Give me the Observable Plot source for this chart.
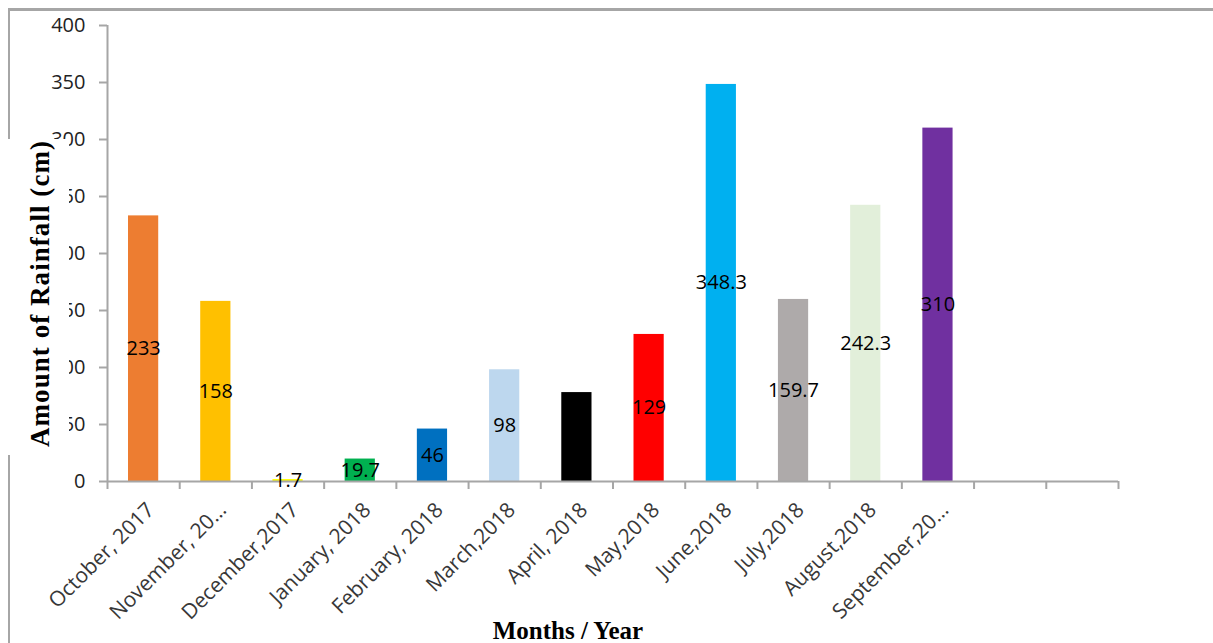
<!DOCTYPE html>
<html>
<head>
<meta charset="utf-8">
<script src="https://cdn.jsdelivr.net/npm/d3@7"></script>
<script src="https://cdn.jsdelivr.net/npm/@observablehq/plot@0.6"></script>
<style>
  html, body { margin: 0; padding: 0; background: #fff; }
  #wrap { position: relative; width: 1213px; height: 643px; overflow: hidden; }
  #wrap svg { position: absolute; left: 0; top: 0; }
  #deco { pointer-events: none; }
</style>
</head>
<body>
<div id="wrap"></div>
<script>
// Monthly rainfall, October 2017 – September 2018
const months = [
  "October, 2017", "November, 20…", "December,2017", "January, 2018",
  "February, 2018", "March,2018", "April, 2018", "May,2018",
  "June,2018", "July,2018", "August,2018", "September,20…"
];
const rainfall = [233, 158, 1.7, 19.7, 46, 98, 78, 129, 348.3, 159.7, 242.3, 310];
const barColors = [
  "#ED7D31", "#FFC000", "#FFFF00", "#00B050", "#0070C0", "#BDD7EE",
  "#000000", "#FF0000", "#00B0F0", "#AEAAAA", "#E2EFDA", "#7030A0"
];
// months whose bar carries no value label
const unlabeled = ["April, 2018"];
const yTicks = [0, 50, 100, 150, 200, 250, 300, 350, 400];
const slotCount = 14; // category slots on the axis (two trailing ones are empty)

const data = months.map((month, i) => ({
  slot: i, month, value: rainfall[i], color: barColors[i]
}));

const axisGray = "#a6a6a6";
const sans = "'Open Sans', sans-serif";

const chart = Plot.plot({
  width: 1213,
  height: 643,
  marginLeft: 107,
  marginRight: 95,
  marginTop: 25,
  marginBottom: 162,
  style: { fontFamily: sans, background: "transparent", overflow: "visible" },
  x: { type: "linear", domain: [0, slotCount] },
  y: { domain: [0, 400] },
  marks: [
    Plot.rectY(data, {
      x1: "slot", x2: d => d.slot + 1, y: "value",
      fill: "color", insetLeft: 21, insetRight: 21
    }),
    Plot.ruleX([0], { stroke: axisGray, strokeWidth: 2 }),
    Plot.ruleY([0], { stroke: axisGray, strokeWidth: 2 }),
    Plot.axisY({
      ticks: yTicks, tickSize: 8, tickPadding: 14, stroke: axisGray,
      strokeWidth: 2, fontSize: 20, color: "#222", label: null
    }),
    // boundary ticks between the category slots
    Plot.axisX({
      ticks: d3.range(slotCount + 1), tickSize: 8, tickFormat: () => "",
      stroke: axisGray, strokeWidth: 2, label: null
    }),
    // month labels at slot centres
    Plot.axisX(data.map(d => d.slot + 0.5), {
      tickSize: 0, tickPadding: 25, tickRotate: -45, fontSize: 21, dx: 7,
      color: "#383838", label: null,
      tickFormat: v => months[Math.floor(v)]
    }),
    Plot.text(data.filter(d => !unlabeled.includes(d.month)), {
      x: d => d.slot + 0.5, y: d => d.value / 2,
      text: d => String(d.value), fontSize: 20, fill: "#000"
    })
  ]
});
document.getElementById("wrap").appendChild(chart);

// Outer frame, the panel that sits over the left edge, and axis titles
const deco = d3.select("#wrap").append("svg")
  .attr("id", "deco").attr("width", 1213).attr("height", 643);
deco.append("line").attr("x1", 9).attr("x2", 1213).attr("y1", 9.5).attr("y2", 9.5)
  .attr("stroke", axisGray).attr("stroke-width", 3);
deco.append("line").attr("x1", 9).attr("x2", 9).attr("y1", 8).attr("y2", 643)
  .attr("stroke", axisGray).attr("stroke-width", 2);
deco.append("rect").attr("x", 0).attr("y", 139).attr("width", 69).attr("height", 316)
  .attr("fill", "#fff");
deco.append("text")
  .attr("transform", "translate(49,294) rotate(-90)")
  .attr("text-anchor", "middle")
  .attr("font-family", "'Liberation Serif', 'Times New Roman', serif")
  .attr("font-weight", "bold").attr("font-size", 27).attr("fill", "#000")
  .attr("textLength", 306).attr("lengthAdjust", "spacing")
  .text("Amount of Rainfall (cm)");
deco.append("text")
  .attr("x", 568).attr("y", 639)
  .attr("text-anchor", "middle")
  .attr("font-family", "'Liberation Serif', 'Times New Roman', serif")
  .attr("font-weight", "bold").attr("font-size", 25).attr("fill", "#000")
  .text("Months / Year");
</script>
</body>
</html>
